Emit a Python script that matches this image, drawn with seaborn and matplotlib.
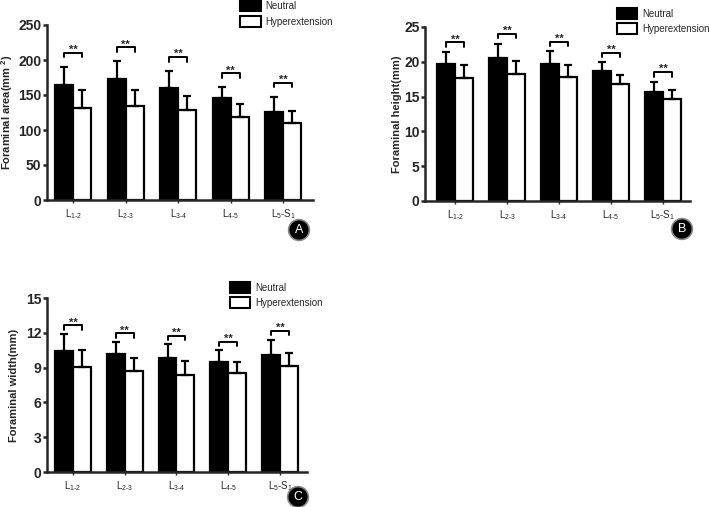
import numpy as np
import pandas as pd
import seaborn as sns
import matplotlib.pyplot as plt
from matplotlib.patches import Patch

# data (mean, upward SD)
levels = ['L1-2', 'L2-3', 'L3-4', 'L4-5', 'L5-S1']
tick_labels = [r'L$_{\mathregular{1\text{-}2}}$', r'L$_{\mathregular{2\text{-}3}}$',
               r'L$_{\mathregular{3\text{-}4}}$', r'L$_{\mathregular{4\text{-}5}}$',
               r'L$_{\mathregular{5}}$-S$_{\mathregular{1}}$']
groups = ['Neutral', 'Hyperextension']

area_neutral = [164, 173, 160, 145, 126]
area_neutral_sd = [26, 25, 24, 16, 21]
area_hyper = [131, 134, 128, 119, 110]
area_hyper_sd = [26, 23, 20, 18, 17]

height_neutral = [19.7, 20.5, 19.7, 18.7, 15.6]
height_neutral_sd = [1.7, 2.1, 1.8, 1.2, 1.5]
height_hyper = [17.7, 18.3, 17.8, 16.8, 14.6]
height_hyper_sd = [1.8, 1.8, 1.7, 1.3, 1.4]

width_neutral = [10.4, 10.2, 9.8, 9.5, 10.1]
width_neutral_sd = [1.5, 1.0, 1.2, 1.0, 1.3]
width_hyper = [9.05, 8.7, 8.4, 8.5, 9.1]
width_hyper_sd = [1.45, 1.1, 1.2, 1.0, 1.2]

sns.set_style('ticks')
plt.rcParams['font.family'] = ['Liberation Sans', 'DejaVu Sans']
plt.rcParams['mathtext.fontset'] = 'custom'
plt.rcParams['mathtext.rm'] = 'Liberation Sans'
plt.rcParams['mathtext.bf'] = 'Liberation Sans:bold'

fig = plt.figure(figsize=(7.09, 5.07), dpi=100)


def panel(rect, neutral, neutral_sd, hyper, hyper_sd, ymax, ystep, ylabel, label_x,
          xlim, leg_xy, offset, letter, letter_xy):
    ax = fig.add_axes(rect)
    df = pd.DataFrame({
        'level': levels * 2,
        'group': ['Neutral'] * 5 + ['Hyperextension'] * 5,
        'value': list(neutral) + list(hyper),
    })
    sns.barplot(data=df, x='level', y='value', hue='group', hue_order=groups,
                palette={'Neutral': 'black', 'Hyperextension': 'white'},
                edgecolor='black', linewidth=1.6, width=0.69, errorbar=None,
                legend=False, ax=ax)
    sds = [neutral_sd, hyper_sd]
    vals = [neutral, hyper]
    centers = []
    for cont, v, sd in zip(ax.containers, vals, sds):
        xs = [b.get_x() + b.get_width() / 2 for b in cont]
        centers.append(xs)
        ax.errorbar(xs, v, yerr=[np.zeros(len(sd)), sd], fmt='none',
                    ecolor='black', elinewidth=1.6, capsize=3, capthick=1.6, zorder=1)
    # significance brackets
    for i in range(len(levels)):
        top = max(neutral[i] + neutral_sd[i], hyper[i] + hyper_sd[i])
        h = top + offset * ymax
        d = 0.025 * ymax
        x0, x1 = centers[0][i], centers[1][i]
        ax.plot([x0, x0, x1, x1], [h - d, h, h, h - d], color='black', lw=1.4,
                clip_on=False)
        ax.text((x0 + x1) / 2, h - 0.012 * ymax, '**', ha='center', va='bottom',
                fontsize=8, fontweight='bold')
    ax.set_xlim(*xlim)
    ax.set_ylim(0, ymax)
    ax.set_yticks(np.arange(0, ymax + 0.01, ystep))
    ax.set_yticklabels([f'{int(t)}' for t in np.arange(0, ymax + 0.01, ystep)],
                       fontsize=10, fontweight='bold')
    ax.set_xticks(range(len(levels)))
    ax.set_xticklabels(tick_labels, fontsize=7)
    ax.set_xlabel('')
    ax.set_ylabel(ylabel, fontsize=8, fontweight='bold')
    ax.yaxis.set_label_coords(label_x, 0.5)
    for s in ['top', 'right']:
        ax.spines[s].set_visible(False)
    for s in ['left', 'bottom']:
        ax.spines[s].set_linewidth(1.8)
    ax.tick_params(axis='y', length=3, width=1.8, pad=1)
    ax.tick_params(axis='x', length=2.5, width=1, pad=3)
    handles = [Patch(facecolor='black', edgecolor='black', lw=1.5, label='Neutral'),
               Patch(facecolor='white', edgecolor='black', lw=1.5, label='Hyperextension')]
    ax.legend(handles=handles, loc='upper left', bbox_to_anchor=leg_xy, frameon=False,
              borderaxespad=0, borderpad=0, handlelength=2.1, handleheight=1.3,
              labelspacing=0.5, handletextpad=0.5, fontsize=7)
    fig.text(letter_xy[0] / 709, 1 - letter_xy[1] / 507, letter, ha='center', va='center',
             color='white', fontsize=9,
             bbox=dict(boxstyle='circle,pad=0.35', fc='black', ec='#888888', lw=1.2))
    return ax


panel([47 / 709, 1 - 200 / 507, 266 / 709, 175 / 507],
      area_neutral, area_neutral_sd, area_hyper, area_hyper_sd,
      250, 50, r'Foraminal area(mm $^{\mathbf{2}}$)', -0.12,
      (-0.5, 4.57), (0.726, 1.14), 0.08, 'A', (299, 230))

panel([425 / 709, 1 - 201 / 507, 265 / 709, 174 / 507],
      height_neutral, height_neutral_sd, height_hyper, height_hyper_sd,
      25, 5, 'Foraminal height(mm)', -0.088,
      (-0.58, 4.52), (0.7245, 1.109), 0.056, 'B', (682, 229))

panel([47 / 709, 1 - 472 / 507, 260 / 709, 174 / 507],
      width_neutral, width_neutral_sd, width_hyper, width_hyper_sd,
      15, 3, 'Foraminal width(mm)', -0.108,
      (-0.5, 4.52), (0.704, 1.092), 0.05, 'C', (298, 497))

fig.savefig('out.png', dpi=100)
